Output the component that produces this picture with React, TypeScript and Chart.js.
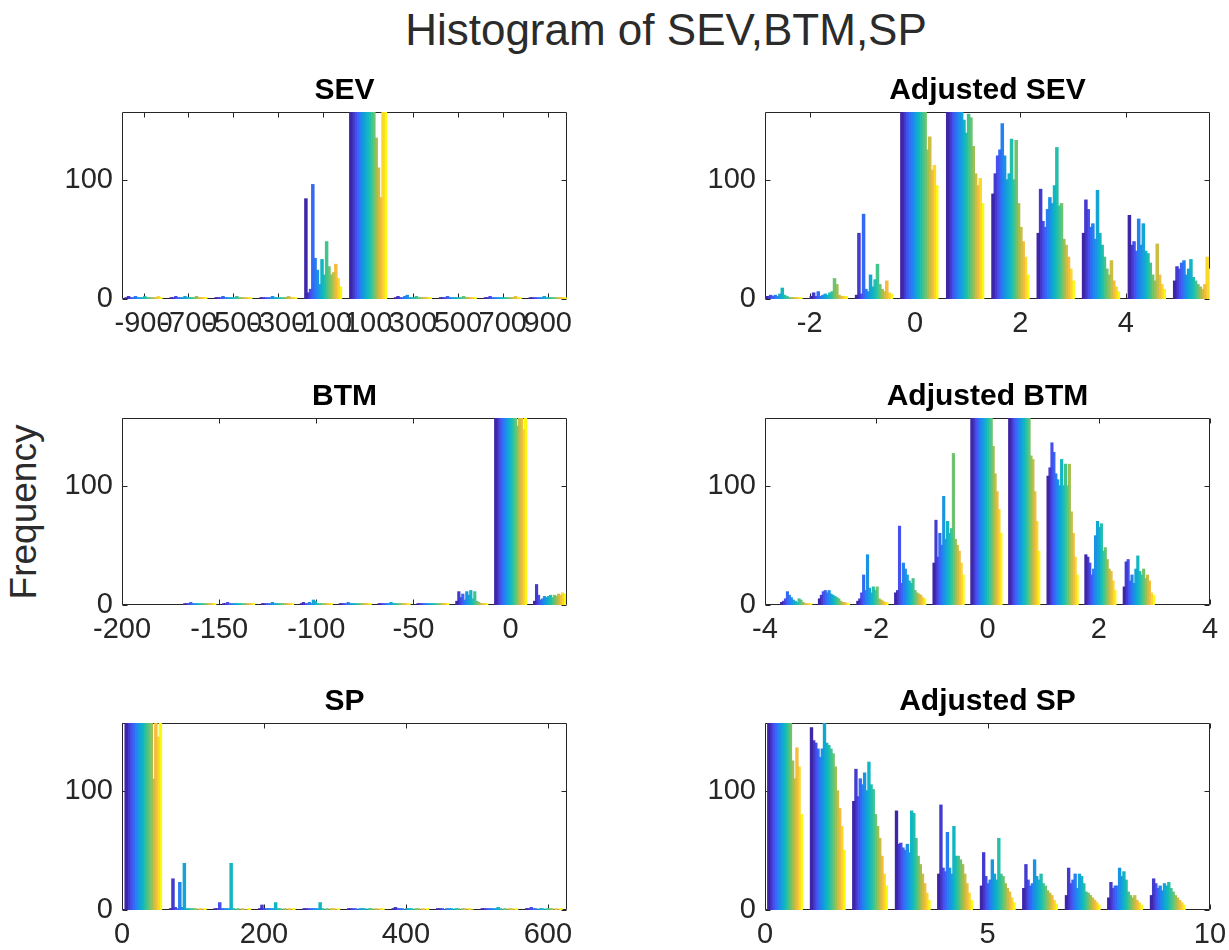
import React, { useEffect, useRef } from "react";
import { Chart, registerables } from "chart.js";

Chart.register(...registerables);

// ---------------- DATA ----------------
// Each panel: 10 histogram bins (centers), counts per bin for 16 data columns (series).
const SUPTITLE = "Histogram of SEV,BTM,SP";
const Y_LABEL = "Frequency";
const Y_TICKS = [0, 100];
const Y_MAX = 157;

const SEV_BINS = [-900, -700, -500, -300, -100, 100, 300, 500, 700, 900];
const SEV_X_TICKS = [-900, -700, -500, -300, -100, 100, 300, 500, 700, 900];
const SEV_X_RANGE = [-996, 986];
const SEV_COUNTS = [
  [1, 2, 1, 1, 2, 1, 1, 1, 2, 1, 1, 1, 1, 1, 2, 1],
  [1, 1, 2, 1, 1, 1, 2, 1, 1, 1, 1, 2, 1, 1, 1, 1],
  [1, 1, 1, 2, 1, 1, 1, 1, 1, 2, 1, 1, 1, 1, 1, 1],
  [1, 1, 1, 1, 1, 2, 1, 1, 1, 1, 1, 1, 2, 1, 1, 1],
  [84, 5, 8, 96, 34, 24, 12, 33, 20, 48, 27, 20, 22, 29, 17, 10],
  [420, 420, 415, 410, 405, 400, 395, 390, 380, 370, 360, 135, 110, 85, 300, 260],
  [1, 2, 1, 1, 2, 3, 1, 1, 1, 2, 1, 1, 1, 1, 1, 1],
  [1, 1, 1, 2, 1, 1, 1, 1, 1, 1, 2, 1, 1, 1, 1, 1],
  [1, 1, 2, 1, 1, 1, 1, 1, 1, 1, 1, 1, 1, 2, 1, 1],
  [1, 1, 1, 1, 1, 1, 2, 1, 1, 1, 1, 1, 1, 1, 1, 1],
];

const ADJ_SEV_BINS = [-2.5, -1.64, -0.78, 0.08, 0.95, 1.81, 2.67, 3.53, 4.4, 5.26];
const ADJ_SEV_X_TICKS = [-2, 0, 2, 4];
const ADJ_SEV_X_RANGE = [-2.85, 5.6];
const ADJ_SEV_COUNTS = [
  [2, 2, 3, 2, 3, 2, 4, 9, 3, 2, 1, 1, 1, 1, 1, 1],
  [2, 5, 2, 6, 2, 3, 4, 3, 5, 6, 17, 12, 3, 2, 2, 2],
  [3, 55, 4, 71, 8, 6, 20, 10, 16, 29, 12, 8, 6, 15, 5, 4],
  [500, 500, 495, 490, 480, 470, 460, 450, 440, 430, 300, 125, 136, 108, 112, 95],
  [400, 400, 390, 380, 370, 300, 290, 150, 139, 155, 152, 128, 105, 95, 101, 80],
  [88, 105, 120, 125, 147, 120, 100, 105, 134, 100, 133, 80, 60, 48, 35, 20],
  [55, 92, 65, 60, 75, 85, 80, 95, 127, 78, 80, 50, 45, 35, 25, 15],
  [55, 83, 75, 60, 63, 50, 91, 55, 45, 35, 25, 20, 32, 15, 10, 6],
  [70, 45, 48, 40, 67, 45, 63, 40, 38, 30, 20, 15, 46, 20, 12, 8],
  [15, 27, 25, 30, 32, 20, 25, 33, 18, 15, 12, 10, 8, 12, 35, 25],
];

const BTM_BINS = [-160, -140, -120, -100, -80, -60, -40, -20, 0, 20];
const BTM_X_TICKS = [-200, -150, -100, -50, 0];
const BTM_X_RANGE = [-200, 29];
const BTM_COUNTS = [
  [1, 1, 1, 2, 1, 1, 1, 1, 1, 1, 1, 1, 1, 1, 1, 1],
  [1, 1, 2, 1, 1, 1, 1, 1, 1, 1, 1, 1, 1, 1, 1, 1],
  [1, 1, 1, 1, 1, 2, 1, 1, 1, 1, 1, 1, 1, 1, 1, 1],
  [1, 2, 1, 1, 2, 1, 4, 3, 1, 1, 1, 1, 1, 1, 1, 1],
  [1, 1, 1, 1, 2, 1, 1, 1, 1, 1, 1, 1, 1, 1, 1, 1],
  [1, 1, 1, 1, 1, 1, 2, 1, 1, 1, 1, 1, 1, 1, 1, 1],
  [1, 1, 1, 1, 1, 1, 1, 1, 1, 1, 1, 1, 1, 1, 1, 1],
  [3, 11, 6, 9, 4, 11, 8, 12, 5, 11, 3, 2, 1, 1, 1, 1],
  [500, 500, 495, 490, 485, 480, 470, 460, 450, 440, 430, 150, 400, 380, 147, 300],
  [3, 17, 8, 4, 5, 7, 6, 7, 8, 6, 8, 7, 9, 8, 10, 9],
];

const ADJ_BTM_BINS = [-3.44, -2.76, -2.07, -1.39, -0.7, -0.02, 0.66, 1.35, 2.03, 2.72];
const ADJ_BTM_X_TICKS = [-4, -2, 0, 2, 4];
const ADJ_BTM_X_RANGE = [-4, 4];
const ADJ_BTM_COUNTS = [
  [2, 3, 5, 11, 8, 6, 4, 3, 2, 5, 4, 2, 1, 1, 1, 1],
  [5, 8, 11, 12, 10, 12, 9, 8, 7, 6, 5, 3, 2, 2, 1, 1],
  [3, 5, 10, 25, 12, 42, 14, 10, 15, 12, 15, 5, 4, 3, 2, 2],
  [10, 12, 66, 18, 35, 30, 25, 20, 18, 22, 12, 10, 9, 8, 6, 5],
  [35, 71, 40, 60, 50, 91, 55, 70, 60, 64, 127, 55, 50, 45, 35, 25],
  [500, 500, 495, 490, 480, 470, 460, 450, 440, 430, 400, 133, 110, 95, 80, 60],
  [500, 500, 495, 490, 480, 470, 460, 450, 440, 430, 300, 125, 122, 95, 70, 45],
  [108, 115, 136, 128, 110, 105, 100, 122, 100, 118, 100, 118, 78, 60, 40, 25],
  [42, 40, 35, 25, 30, 58, 70, 65, 68, 45, 48, 38, 30, 28, 20, 12],
  [15, 36, 38, 20, 25, 18, 30, 41, 28, 25, 30, 22, 25, 20, 10, 8],
];

const SP_BINS = [30, 92.7, 155.4, 218.1, 280.8, 343.5, 406.2, 468.9, 531.6, 594.3];
const SP_X_TICKS = [0, 200, 400, 600];
const SP_X_RANGE = [0, 627];
const SP_COUNTS = [
  [600, 600, 590, 580, 570, 560, 550, 540, 520, 500, 480, 460, 110, 400, 145, 300],
  [1, 26, 2, 1, 23, 2, 39, 1, 1, 1, 1, 1, 0, 1, 0, 1],
  [1, 1, 6, 1, 1, 1, 1, 39, 1, 0, 1, 0, 1, 0, 0, 1],
  [1, 4, 1, 1, 1, 1, 1, 6, 1, 1, 0, 1, 0, 1, 0, 1],
  [1, 1, 1, 1, 1, 1, 1, 6, 1, 0, 1, 0, 1, 1, 0, 1],
  [1, 1, 1, 1, 0, 1, 1, 1, 0, 1, 1, 0, 1, 0, 1, 1],
  [1, 2, 1, 1, 1, 0, 1, 1, 1, 0, 1, 1, 0, 1, 0, 1],
  [1, 1, 1, 0, 1, 1, 1, 0, 1, 1, 0, 1, 1, 0, 1, 0],
  [1, 1, 1, 1, 1, 1, 1, 2, 1, 0, 1, 0, 1, 1, 0, 1],
  [1, 1, 2, 1, 1, 0, 1, 1, 0, 1, 1, 1, 0, 1, 0, 1],
];

const ADJ_SP_BINS = [0.45, 1.41, 2.36, 3.32, 4.27, 5.23, 6.18, 7.14, 8.09, 9.05];
const ADJ_SP_X_TICKS = [0, 5, 10];
const ADJ_SP_X_RANGE = [0, 10];
const ADJ_SP_COUNTS = [
  [600, 600, 590, 580, 570, 560, 550, 540, 520, 500, 480, 125, 110, 136, 120, 80],
  [153, 142, 140, 135, 128, 135, 160, 140, 138, 135, 131, 120, 100, 85, 70, 50],
  [91, 118, 95, 110, 105, 115, 100, 124, 105, 101, 80, 70, 60, 45, 30, 20],
  [83, 55, 56, 52, 50, 55, 48, 83, 81, 60, 45, 38, 30, 22, 14, 8],
  [30, 88, 35, 32, 65, 35, 30, 70, 45, 45, 42, 38, 30, 22, 14, 8],
  [20, 48, 28, 22, 25, 42, 30, 25, 60, 30, 28, 22, 18, 15, 10, 6],
  [18, 38, 25, 20, 22, 42, 28, 25, 30, 22, 20, 16, 14, 12, 8, 5],
  [12, 35, 22, 25, 30, 18, 30, 28, 22, 15, 14, 12, 10, 8, 6, 4],
  [10, 23, 18, 20, 20, 35, 28, 32, 25, 15, 12, 10, 12, 8, 6, 4],
  [12, 26, 22, 18, 20, 16, 22, 20, 23, 18, 15, 12, 10, 8, 6, 4],
];

// ---------------- STYLE / LAYOUT ----------------
const SERIES_COUNT = 16;
const FONT = "'Liberation Sans', Arial, Helvetica, sans-serif";
const AXIS_COLOR = "#262626";
const PLOT_W = 445;
const PLOT_H = 187;
const Y_W = 80;
const TITLE_SIZE = 30;
const TITLE_PAD_BOTTOM = 3;
const TITLE_H = TITLE_SIZE * 1.2 + TITLE_PAD_BOTTOM;
const X_H = 46;
const RIGHT_PAD = 30;
const CANVAS_W = Y_W + PLOT_W + RIGHT_PAD;
const CANVAS_H = TITLE_H + PLOT_H + X_H;

// parula-like colormap anchors
const PARULA = [
  [62, 38, 168],
  [72, 76, 240],
  [38, 124, 245],
  [18, 160, 220],
  [18, 188, 185],
  [80, 198, 130],
  [175, 190, 70],
  [250, 188, 60],
  [249, 251, 14],
];
function parula(t: number): string {
  const p = t * (PARULA.length - 1);
  const i = Math.min(Math.floor(p), PARULA.length - 2);
  const f = p - i;
  const a = PARULA[i];
  const b = PARULA[i + 1];
  const c = a.map((v, k) => Math.round(v + (b[k] - v) * f));
  return `rgb(${c[0]},${c[1]},${c[2]})`;
}
const COLORS = Array.from({ length: SERIES_COUNT }, (_, s) => parula(s / (SERIES_COUNT - 1)));

type PanelSpec = {
  title: string;
  bins: number[];
  counts: number[][];
  xTicks: number[];
  xRange: number[];
  left: number;
  top: number;
};

const PANELS: PanelSpec[] = [
  { title: "SEV", bins: SEV_BINS, counts: SEV_COUNTS, xTicks: SEV_X_TICKS, xRange: SEV_X_RANGE, left: 122, top: 112 },
  { title: "Adjusted SEV", bins: ADJ_SEV_BINS, counts: ADJ_SEV_COUNTS, xTicks: ADJ_SEV_X_TICKS, xRange: ADJ_SEV_X_RANGE, left: 765, top: 112 },
  { title: "BTM", bins: BTM_BINS, counts: BTM_COUNTS, xTicks: BTM_X_TICKS, xRange: BTM_X_RANGE, left: 122, top: 418 },
  { title: "Adjusted BTM", bins: ADJ_BTM_BINS, counts: ADJ_BTM_COUNTS, xTicks: ADJ_BTM_X_TICKS, xRange: ADJ_BTM_X_RANGE, left: 765, top: 418 },
  { title: "SP", bins: SP_BINS, counts: SP_COUNTS, xTicks: SP_X_TICKS, xRange: SP_X_RANGE, left: 122, top: 723 },
  { title: "Adjusted SP", bins: ADJ_SP_BINS, counts: ADJ_SP_COUNTS, xTicks: ADJ_SP_X_TICKS, xRange: ADJ_SP_X_RANGE, left: 765, top: 723 },
];

// box + inward tick marks, drawn under the bars
const framePlugin = {
  id: "matlabFrame",
  beforeDatasetsDraw(chart: any) {
    const { ctx, chartArea: a, scales } = chart;
    const L = Math.round(a.left) + 0.5;
    const R = Math.round(a.right) - 0.5;
    const T = Math.round(a.top) + 0.5;
    const B = Math.round(a.bottom) - 0.5;
    ctx.save();
    ctx.strokeStyle = AXIS_COLOR;
    ctx.lineWidth = 1;
    ctx.beginPath();
    ctx.moveTo(L, T);
    ctx.lineTo(R, T);
    ctx.lineTo(R, B);
    ctx.lineTo(L, B);
    ctx.closePath();
    const len = 5;
    scales.x.ticks.forEach((t: any) => {
      const x = Math.round(scales.x.getPixelForValue(t.value)) + 0.5;
      ctx.moveTo(x, B);
      ctx.lineTo(x, B - len);
      ctx.moveTo(x, T);
      ctx.lineTo(x, T + len);
    });
    scales.y.ticks.forEach((t: any) => {
      const y = Math.round(scales.y.getPixelForValue(t.value)) + 0.5;
      ctx.moveTo(L, y);
      ctx.lineTo(L + len, y);
      ctx.moveTo(R, y);
      ctx.lineTo(R - len, y);
    });
    ctx.stroke();
    ctx.restore();
  },
};

function makeConfig(p: PanelSpec): any {
  const datasets = Array.from({ length: SERIES_COUNT }, (_, s) => ({
    label: `Column ${s + 1}`,
    data: p.bins.map((x, b) => ({ x, y: p.counts[b][s] })),
    backgroundColor: COLORS[s],
    borderWidth: 0,
    clip: 0,
    inflateAmount: 0.6,
    categoryPercentage: 0.82,
    barPercentage: 1,
  }));
  const tickFont = { family: FONT, size: 29 };
  return {
    type: "bar",
    data: { datasets },
    options: {
      animation: false,
      responsive: false,
      maintainAspectRatio: false,
      devicePixelRatio: 1,
      events: [],
      layout: { padding: { left: 0, right: RIGHT_PAD, top: 0, bottom: 0 } },
      plugins: {
        legend: { display: false },
        tooltip: { enabled: false },
        title: {
          display: true,
          text: p.title,
          fullSize: false,
          align: "center",
          color: "#000",
          font: { family: FONT, size: TITLE_SIZE, weight: "bold", lineHeight: 1.2 },
          padding: { top: 0, bottom: TITLE_PAD_BOTTOM },
        },
      },
      scales: {
        x: {
          type: "linear",
          min: p.xRange[0],
          max: p.xRange[1],
          offset: false,
          grid: { display: false, drawTicks: false },
          border: { display: false },
          afterBuildTicks: (axis: any) => {
            axis.ticks = p.xTicks.map((v) => ({ value: v }));
          },
          afterFit: (axis: any) => {
            axis.height = X_H;
          },
          ticks: {
            autoSkip: false,
            maxRotation: 0,
            minRotation: 0,
            padding: 8,
            color: AXIS_COLOR,
            font: tickFont,
            callback: (v: any) => String(v),
          },
        },
        y: {
          type: "linear",
          min: 0,
          max: Y_MAX,
          grid: { display: false, drawTicks: false },
          border: { display: false },
          afterBuildTicks: (axis: any) => {
            axis.ticks = Y_TICKS.map((v) => ({ value: v }));
          },
          afterFit: (axis: any) => {
            axis.width = Y_W;
          },
          ticks: {
            padding: 9,
            color: AXIS_COLOR,
            font: tickFont,
            callback: (v: any) => String(v),
          },
        },
      },
    },
    plugins: [framePlugin],
  };
}

function Panel({ spec }: { spec: PanelSpec }) {
  const ref = useRef<HTMLCanvasElement | null>(null);
  useEffect(() => {
    if (!ref.current) return;
    const chart = new Chart(ref.current, makeConfig(spec));
    return () => chart.destroy();
  }, [spec]);
  return (
    <canvas
      ref={ref}
      width={CANVAS_W}
      height={CANVAS_H}
      style={{
        position: "absolute",
        left: spec.left - Y_W,
        top: spec.top - TITLE_H,
        width: CANVAS_W,
        height: CANVAS_H,
        display: "block",
      }}
    />
  );
}

export default function App() {
  return (
    <div
      style={{
        position: "absolute",
        left: 0,
        top: 0,
        width: 1229,
        height: 950,
        overflow: "hidden",
        background: "#fff",
        fontFamily: FONT,
      }}
    >
      <div
        style={{
          position: "absolute",
          left: 666 - 400,
          top: 8,
          width: 800,
          textAlign: "center",
          fontSize: 44,
          lineHeight: "44px",
          color: "#2b2b2b",
          whiteSpace: "nowrap",
        }}
      >
        {SUPTITLE}
      </div>
      <div
        style={{
          position: "absolute",
          left: 23.5 - 200,
          top: 512 - 22,
          width: 400,
          height: 44,
          lineHeight: "44px",
          textAlign: "center",
          fontSize: 37,
          color: "#2b2b2b",
          transform: "rotate(-90deg)",
          whiteSpace: "nowrap",
        }}
      >
        {Y_LABEL}
      </div>
      {PANELS.map((p) => (
        <Panel key={p.title} spec={p} />
      ))}
    </div>
  );
}
